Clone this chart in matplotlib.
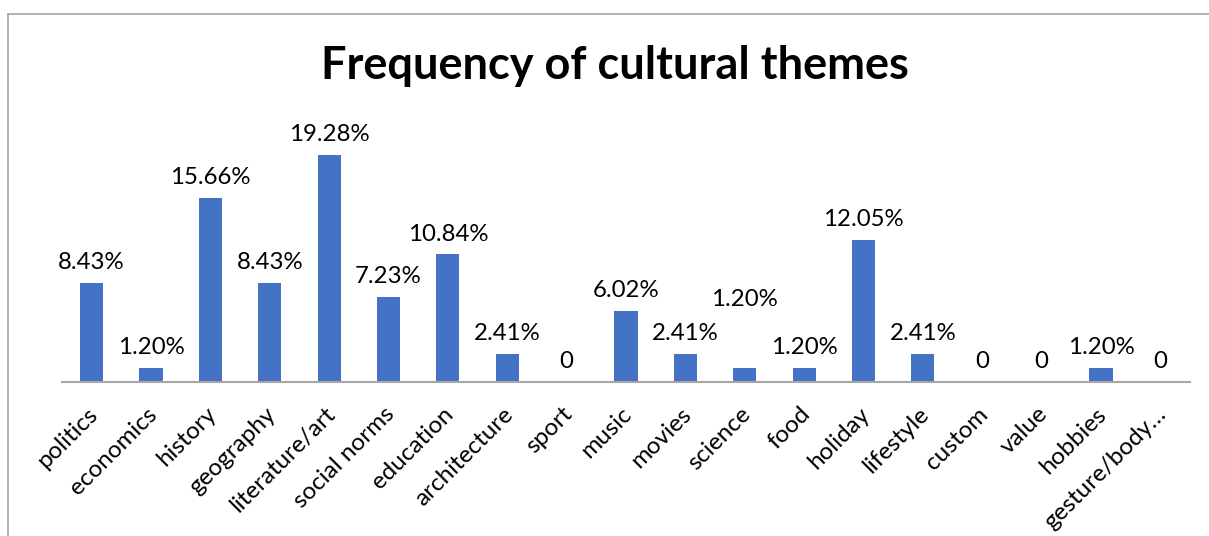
import matplotlib.pyplot as plt
from matplotlib.lines import Line2D
from matplotlib.transforms import ScaledTranslation

plt.rcParams["font.family"] = ["Lato", "DejaVu Sans"]

themes = [
    "politics", "economics", "history", "geography", "literature/art",
    "social norms", "education", "architecture", "sport", "music",
    "movies", "science", "food", "holiday", "lifestyle", "custom",
    "value", "hobbies", "gesture/body\u2026",
]
frequency = [
    8.43, 1.20, 15.66, 8.43, 19.28, 7.23, 10.84, 2.41, 0, 6.02,
    2.41, 1.20, 1.20, 12.05, 2.41, 0, 0, 1.20, 0,
]
labels = [f"{v:.2f}%" if v > 0 else "0" for v in frequency]

bar_color = "#4472C4"

fig = plt.figure(figsize=(12.09, 5.36), dpi=100)
ax = fig.add_axes([62 / 1209, 1 - 382 / 536, 1128 / 1209, 235.4 / 536])

x = list(range(len(themes)))
bars = ax.bar(x, frequency, width=0.39, color=bar_color, zorder=2)

for i, (bar, text) in enumerate(zip(bars, labels)):
    lift = 7
    if themes[i] == "science":
        # Excel moved this one label up by hand
        lift += 35
    ax.annotate(
        text,
        (bar.get_x() + bar.get_width() / 2, bar.get_height()),
        xytext=(0, lift),
        textcoords="offset points",
        ha="center",
        va="bottom",
        fontsize=17.3,
        color="#000000",
        annotation_clip=False,
    )

ax.set_xlim(-0.5, len(themes) - 0.5)
ax.set_ylim(0, 20)
ax.set_yticks([])
ax.set_xticks(x)
ax.set_xticklabels(
    themes, rotation=45, ha="right", rotation_mode="anchor", fontsize=17.5
)
ax.tick_params(axis="x", length=0, pad=11)

shift = ScaledTranslation(-5 / 100, -6 / 100, fig.dpi_scale_trans)
for tick_label in ax.get_xticklabels():
    tick_label.set_transform(tick_label.get_transform() + shift)

for side in ["top", "right", "left"]:
    ax.spines[side].set_visible(False)
ax.spines["bottom"].set_color("#A6A6A6")
ax.spines["bottom"].set_linewidth(1.5)

fig.text(
    615 / 1209, 1 - 66 / 536, "Frequency of cultural themes",
    ha="center", va="center", fontsize=32.5, fontweight="bold",
)

# chart frame (only top and left edges are visible in the crop)
fig.add_artist(Line2D([8 / 1209, 1], [1 - 14 / 536, 1 - 14 / 536],
                      transform=fig.transFigure, color="#A6A6A6", lw=1.2))
fig.add_artist(Line2D([8 / 1209, 8 / 1209], [0, 1 - 14 / 536],
                      transform=fig.transFigure, color="#A6A6A6", lw=1.2))

fig.savefig("out.png", dpi=100)
